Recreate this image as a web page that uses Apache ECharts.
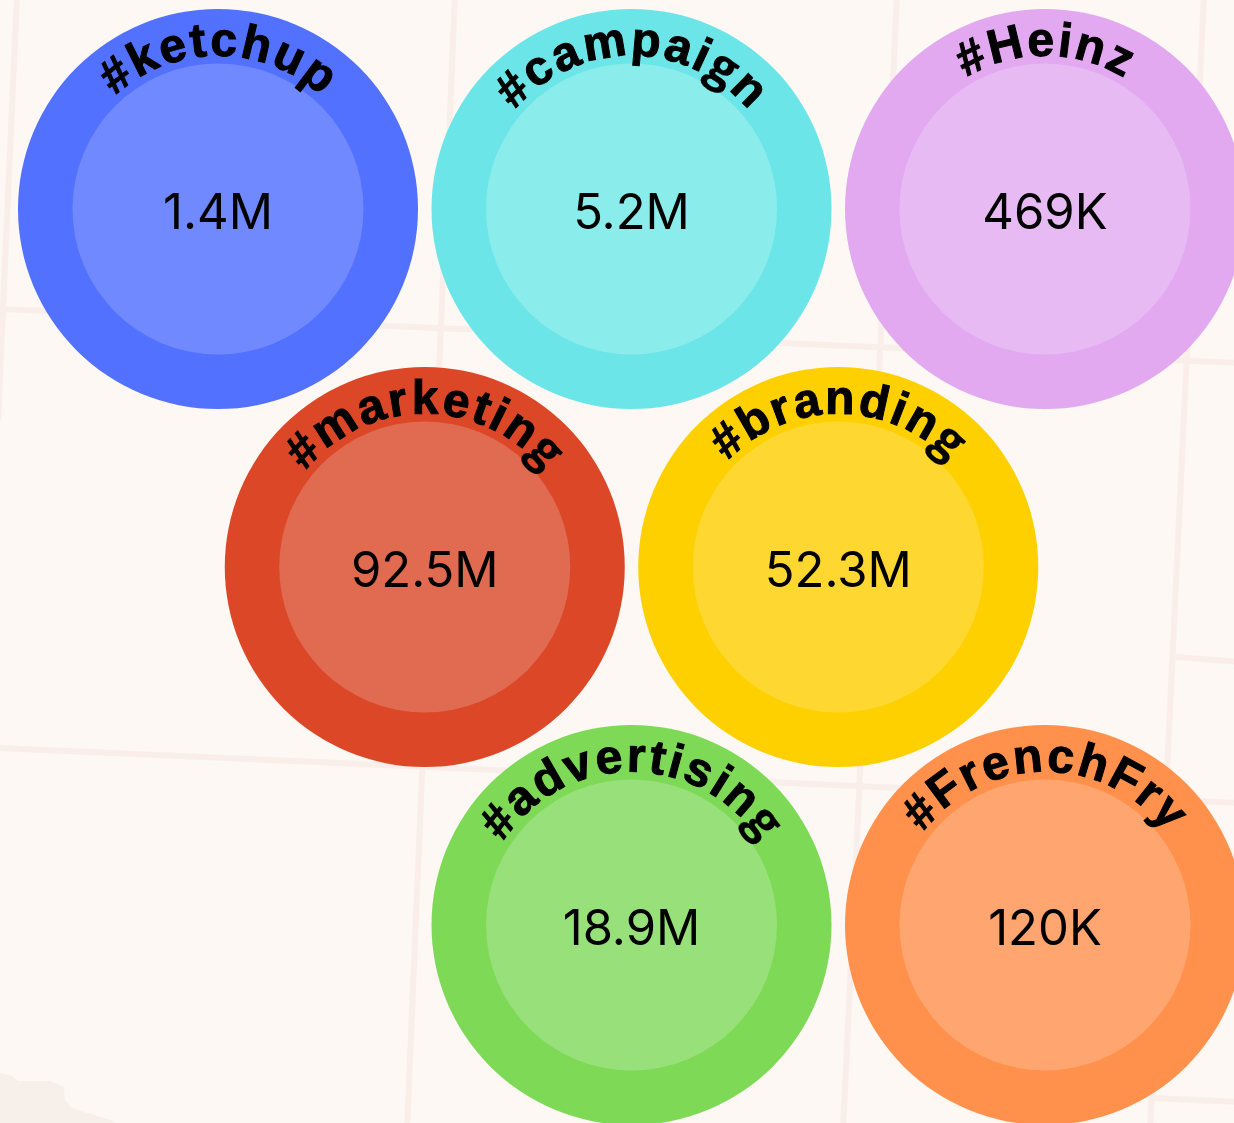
<!DOCTYPE html>
<html><head><meta charset="utf-8">
<style>html,body{margin:0;padding:0;background:#fdf8f3}#c{width:1234px;height:1123px}</style>
<script src="https://cdn.jsdelivr.net/npm/echarts@6/dist/echarts.min.js"></script>
</head><body><div id="c"></div>
<script>
const hashtags = ['#ketchup','#campaign','#Heinz','#marketing','#branding','#advertising','#FrenchFry'];
const mentionLabels = ['1.4M','5.2M','469K','92.5M','52.3M','18.9M','120K'];
const mentionValues = [1400000,5200000,469000,92500000,52300000,18900000,120000];
const honeycombColumn = [0,2,4,1,3,2,4];
const honeycombRow = [0,0,0,1,1,2,2];
const outerColors = ['#5271ff','#6ce5e8','#e2a9f1','#dc4827','#ffd000','#7ed957','#ff914d'];
const innerColors = ['#7189ff','#8becec','#e7baf3','#e06b51','#ffd731','#98e079','#ffa56f'];

const OUTER_R = 200, INNER_R = 145.5;
const TAG_SIZE = 48, TAG_SPACING = 2.4, TAG_BASE_R = 153.5;
const tagFont = 'bold 48px "Liberation Sans"';
const tagFontG = '700 47px "Open Sans"';
const roadColor = '#f9eee9';
const roads = [
  [[17,-5],[-2,420]],
  [[-2,309],[1240,363]],
  [[455,-5],[407,1130]],
  [[897,-5],[843,1130]],
  [[1204,-5],[1150,1130]],
  [[-2,748],[1240,803]],
  [[1176,657],[1240,662]],
  [[1153,1098],[1240,1102]]
];
const blob = [[0,1073],[10,1075],[18,1081],[50,1081],[64,1087],[65,1100],[72,1108],[110,1120],[116,1123],[0,1123]];

const measure = document.createElement('canvas').getContext('2d');
function charFont(c){ return c === 'g' ? tagFontG : tagFont; }
function charWidth(c){ measure.font = charFont(c); return measure.measureText(c).width; }

function renderItem(params, api) {
  const i = params.dataIndex;
  const p = api.coord([api.value(0), api.value(1)]);
  const cx = p[0], cy = p[1];
  const children = [
    {type:'circle', shape:{cx, cy, r:OUTER_R}, style:{fill:outerColors[i]}},
    {type:'circle', shape:{cx, cy, r:INNER_R}, style:{fill:innerColors[i]}},
    {type:'text', x:cx, y:cy+5, style:{text:mentionLabels[i], fill:'#000', font:'400 49px Inter', textAlign:'center', textVerticalAlign:'middle'}}
  ];
  const chars = Array.from(hashtags[i]);
  const widths = chars.map(charWidth);
  const total = widths.reduce((a,b)=>a+b,0) + TAG_SPACING*(chars.length-1);
  let adv = -total/2;
  chars.forEach((ch,k) => {
    const a = (adv + widths[k]/2) / TAG_BASE_R;
    const mid = TAG_BASE_R + TAG_SIZE*0.27;
    children.push({type:'text', x:cx+Math.sin(a)*mid, y:cy-Math.cos(a)*mid, rotation:-a,
      style:{text:ch, fill:'#000', stroke:'#000', lineWidth:ch==='g'?0.3:1, font:charFont(ch), textAlign:'center', textVerticalAlign:'middle'}});
    adv += widths[k] + TAG_SPACING;
  });
  return {type:'group', children};
}

const chart = echarts.init(document.getElementById('c'), null, {renderer:'canvas'});
chart.setOption({
  animation:false,
  backgroundColor:'#fdf8f3',
  grid:{left:218, right:189, top:209, bottom:198},
  xAxis:{type:'value', min:0, max:4, show:false},
  yAxis:{type:'value', min:0, max:2, inverse:true, show:false},
  graphic: [
    {type:'polygon', silent:true, z:-10, shape:{points:blob}, style:{fill:'#f7f0ea'}}
  ].concat(roads.map(r => ({type:'polyline', silent:true, z:-9, shape:{points:r}, style:{stroke:roadColor, lineWidth:6, fill:null}}))),
  series:[{
    type:'custom', renderItem, clip:false, z:5,
    data: hashtags.map((t,i)=>({name:t, value:[honeycombColumn[i], honeycombRow[i], mentionValues[i]]}))
  }]
});
</script></body></html>
